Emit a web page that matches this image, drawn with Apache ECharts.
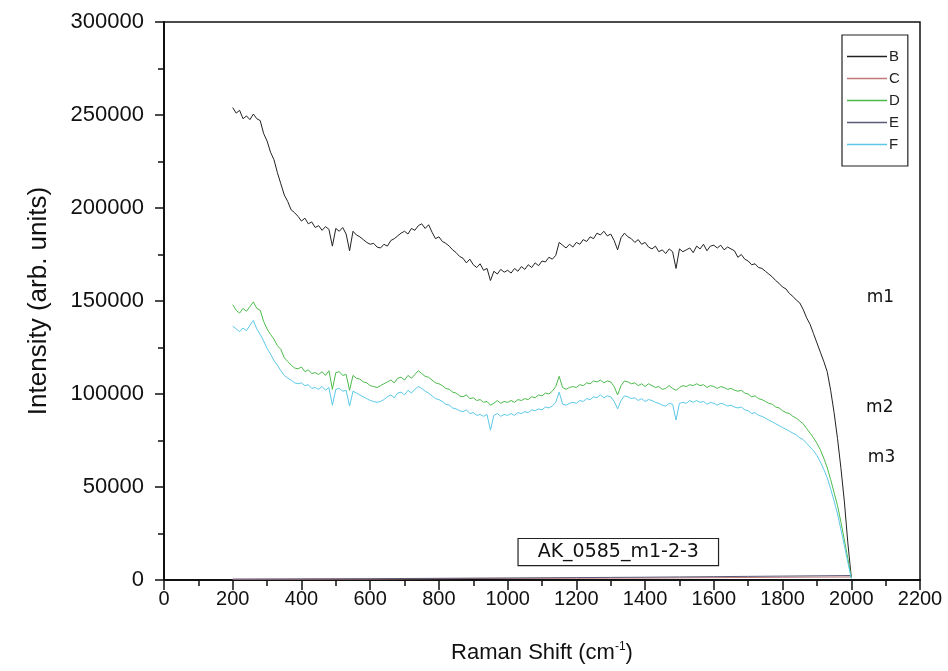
<!DOCTYPE html>
<html>
<head>
<meta charset="utf-8">
<title>AK_0585_m1-2-3</title>
<script src="https://cdn.jsdelivr.net/npm/echarts@6/dist/echarts.min.js"></script>
<style>
  html, body {margin: 0; padding: 0; background: #fff;}
  #main {width: 948px; height: 671px;}
</style>
</head>
<body>
<div id="main"></div>
<script>
// Raman shift, every 10 cm-1 from 200 to 2000
var shift = [];
for (var s = 200; s <= 2000; s += 10) shift.push(s);

// B (m1)
var seriesB = [
  254000, 251000, 252500, 248000, 249500, 247500, 250500, 248000, 247000, 240000,
  236000, 230000, 226000, 219000, 213000, 207000, 203500, 199000, 197500, 195500,
  193000, 194500, 191500, 192500, 189500, 190500, 188000, 190000, 188500, 179500,
  189000, 187500, 189500, 186000, 177000, 187500, 185500, 184500, 183000, 181500,
  180500, 181000, 179000, 178500, 180500, 179500, 182500, 183500, 185000, 186500,
  187500, 186000, 189000, 188000, 190500, 191500, 189000, 191000, 187000, 183500,
  184500, 182000, 181000, 179500, 177500, 176000, 174000, 173000, 170500, 172500,
  169500, 168000, 170000, 166500, 167500, 161000, 166000, 164500, 167000, 165500,
  166500, 165000, 167500, 166000, 168500, 167000, 169500, 168000, 170500, 169000,
  171500, 171000, 173500, 172500, 174500, 181500, 180000, 178500, 180500, 179000,
  181500, 180500, 183000, 182000, 184500, 183500, 186500, 185500, 187500, 185000,
  186000, 182500, 177500, 184000, 186500, 184500, 183500, 181500, 183000, 180500,
  181500, 179000, 178000, 179500, 176500, 177500, 175500, 178000, 176500, 167500,
  178000, 176500, 177500, 178500, 176000, 179500, 178000, 180500, 177000, 179500,
  180000, 178500, 180000, 177500, 179000, 178000, 177000, 173500, 175000, 172500,
  171500, 169500, 170000, 168000, 167500, 166000, 164500, 163000, 161000, 159500,
  157500, 156500, 154000, 152500, 150500, 149000, 145500, 141000, 137500, 132500,
  127500, 122500, 117500, 112000, 102000, 90000, 76000, 60000, 42000, 20000,
  1500
];

// D (m2)
var seriesD = [
  148000, 145000, 143500, 146000, 144500, 147000, 149500, 146000, 145000, 139000,
  135000, 132000, 129500, 126000, 124000, 119500, 117500, 115500, 114000, 113500,
  114500, 112000, 113000, 111000, 111500, 110500, 112000, 110000, 112500, 102500,
  111500, 112000, 110000, 110500, 102000, 110000, 108500, 108000, 106500, 106000,
  104500, 104000, 103500, 104500, 105500, 106500, 107500, 106000, 108500, 109000,
  107500, 110000, 108500, 110500, 112500, 111000, 109500, 109000, 107500, 106000,
  105500, 104500, 103000, 102500, 101000, 100500, 99000, 98500, 99500, 97500,
  98000, 96500, 97000, 95500, 96000, 94000, 95000, 96500, 95000, 96000,
  95500, 96500, 95500, 97000, 96500, 97500, 97000, 98500, 98000, 99500,
  99000, 100500, 100000, 101500, 104000, 109500, 103500, 102500, 103500, 104000,
  103500, 105000, 104500, 106000, 105500, 107000, 106500, 107500, 106000, 107000,
  106500, 104000, 99500, 104500, 107000, 106500, 105500, 106000, 104500, 105500,
  104000, 105500, 104500, 103500, 104000, 102500, 103000, 104500, 103000, 102000,
  103500, 104500, 104000, 105000, 104500, 105500, 104500, 105000, 103500, 104500,
  104000, 103000, 104000, 103500, 102500, 103000, 102000, 101500, 102000, 100500,
  100000, 98500, 99000, 97500, 97000, 96000, 95000, 94500, 93000, 92500,
  91000, 90000, 89500, 88000, 87000, 85500, 84000, 81500, 79000, 76500,
  73500, 70000, 65500, 60500, 54000, 47000, 40000, 31000, 21500, 11500,
  1500
];

// F (m3)
var seriesF = [
  136500, 135000, 133500, 135500, 134000, 137000, 139500, 135000, 132000, 128500,
  124500, 121500, 118000, 115500, 112500, 110000, 108500, 107500, 106000, 105500,
  106000, 104500, 105000, 103000, 103500, 102500, 104000, 102000, 103500, 94000,
  102500, 103000, 101500, 102000, 93500, 101500, 100500, 99500, 98500, 97500,
  96500, 96000, 95500, 96000, 97000, 98500, 99500, 98000, 100500, 101000,
  99500, 102000, 100500, 102500, 104000, 103000, 101500, 100500, 99000, 97500,
  97000, 96000, 94500, 94000, 92500, 92000, 91000, 90500, 91500, 89500,
  90000, 88500, 89000, 88000, 89000, 80500, 88500, 89500, 88000, 89000,
  88500, 89500, 88500, 90000, 89500, 90500, 90000, 91500, 91000, 92000,
  91500, 93000, 92500, 93500, 95500, 101000, 94500, 94000, 95000, 95500,
  95000, 96500, 96000, 97500, 97000, 98500, 98000, 99500, 98000, 99000,
  98500, 96000, 92000, 96500, 99000, 98500, 97500, 98000, 96500, 97500,
  96000, 97000, 96500, 95500, 95000, 94000, 93500, 95000, 94500, 86000,
  95000, 95500, 95000, 96500, 95500, 96500, 95500, 96000, 94500, 95500,
  95000, 94000, 95000, 94500, 93500, 94000, 93000, 92500, 93000, 91500,
  91000, 89500, 90000, 88500, 88000, 87000, 86000, 85000, 84000, 83000,
  82000, 81000, 80000, 79000, 78000, 76500, 75500, 73500, 71500, 69500,
  67000, 63500, 59500, 55000, 49000, 42500, 35500, 27000, 18500, 9500,
  800
];

// C and E lie close to zero
var shiftLow = [200, 300, 400, 500, 600, 700, 800, 900, 1000, 1100, 1200, 1300, 1400, 1500, 1600, 1700, 1800, 1900, 2000];
var seriesC = [300, 350, 400, 450, 500, 600, 700, 800, 850, 900, 950, 1000, 1050, 1150, 1250, 1350, 1450, 1550, 1600];
var seriesE = [500, 550, 600, 650, 700, 800, 900, 1000, 1100, 1200, 1300, 1400, 1500, 1650, 1800, 1950, 2100, 2250, 2400];

// annotation labels, placed in data units
var curveLabels = ['m1', 'm2', 'm3'];
var curveLabelPos = [[2085, 152000], [2083, 92500], [2088, 65600]];
var sampleName = 'AK_0585_m1-2-3';
var sampleNamePos = [1322, 15000];

function pairs(xs, ys) {
    return xs.map(function (x, i) { return [x, ys[i]]; });
}

var chart = echarts.init(document.getElementById('main'));

function lineSeries(name, xs, ys, color) {
    return {
        name: name,
        type: 'line',
        data: pairs(xs, ys),
        symbol: 'none',
        animation: false,
        lineStyle: {color: color, width: 1},
        itemStyle: {color: color}
    };
}

var FONT = 'Liberation Sans, Arial, sans-serif';

chart.setOption({
    animation: false,
    backgroundColor: '#fff',
    grid: {
        left: 164, right: 28, top: 22, bottom: 91,
        show: true, borderColor: '#111', borderWidth: 1.5
    },
    legend: {
        orient: 'vertical',
        left: 842, top: 35,
        padding: [14, 8, 14, 5],
        icon: 'rect',
        itemWidth: 40, itemHeight: 1.5, itemGap: 7,
        borderColor: '#222', borderWidth: 1.2,
        backgroundColor: '#fff',
        textStyle: {fontFamily: FONT, fontSize: 15, lineHeight: 14, color: '#222', padding: [0, 0, 0, -3]},
        data: ['B', 'C', 'D', 'E', 'F']
    },
    xAxis: {
        type: 'value',
        min: 0, max: 2200, interval: 200,
        name: 'Raman Shift (cm{sup|-1})',
        nameLocation: 'middle',
        nameGap: 61,
        nameTextStyle: {
            fontFamily: FONT, fontSize: 22, color: '#111',
            rich: {sup: {fontSize: 12, verticalAlign: 'top', padding: [0, 0, 12, 0], fontFamily: FONT, color: '#111'}}
        },
        axisLine: {onZero: false, lineStyle: {color: '#111', width: 2}},
        axisTick: {length: 10, lineStyle: {color: '#111', width: 1.5}},
        minorTick: {show: true, splitNumber: 2, length: 6, lineStyle: {color: '#111', width: 1.5}},
        axisLabel: {fontFamily: FONT, color: '#111', fontSize: 20, margin: 9, formatter: function (v) { return String(v); }},
        splitLine: {show: false}
    },
    yAxis: {
        type: 'value',
        min: 0, max: 300000, interval: 50000,
        name: 'Intensity (arb. units)',
        nameLocation: 'middle',
        nameGap: 112,
        nameTextStyle: {fontFamily: FONT, fontSize: 26, color: '#111'},
        axisLine: {lineStyle: {color: '#111', width: 2}},
        axisTick: {length: 9, lineStyle: {color: '#111', width: 1.5}},
        minorTick: {show: true, splitNumber: 2, length: 6, lineStyle: {color: '#111', width: 1.5}},
        axisLabel: {fontFamily: FONT, color: '#111', fontSize: 22, margin: 20, formatter: function (v) { return String(v); }},
        splitLine: {show: false}
    },
    series: [
        lineSeries('B', shift, seriesB, '#222222'),
        lineSeries('C', shiftLow, seriesC, '#c07a7a'),
        lineSeries('D', shift, seriesD, '#4cbb4c'),
        lineSeries('E', shiftLow, seriesE, '#5a5a78'),
        lineSeries('F', shift, seriesF, '#5cc8e6')
    ]
});

// annotations: curve names and sample box
var graphics = curveLabels.map(function (t, i) {
    var p = chart.convertToPixel({gridIndex: 0}, curveLabelPos[i]);
    return {
        type: 'text', x: p[0], y: p[1],
        style: {text: t, fontFamily: 'DejaVu Sans, Verdana, sans-serif', fontSize: 17, fill: '#111', align: 'center', verticalAlign: 'middle'}
    };
});
var bp = chart.convertToPixel({gridIndex: 0}, sampleNamePos);
graphics.push({
    type: 'text', x: bp[0], y: bp[1],
    style: {
        text: sampleName, fontFamily: 'DejaVu Sans, Verdana, sans-serif', fontSize: 19, fill: '#111',
        align: 'center', verticalAlign: 'middle',
        backgroundColor: '#fff', borderColor: '#222', borderWidth: 1.2,
        padding: [4, 19, 3, 19]
    }
});
chart.setOption({graphic: graphics});
</script>
</body>
</html>
